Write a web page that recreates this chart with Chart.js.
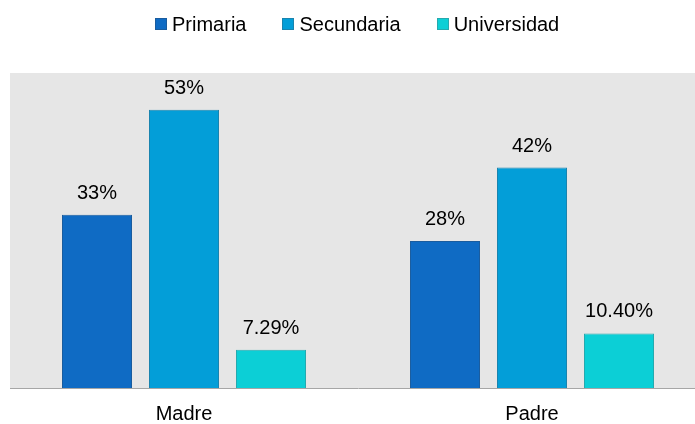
<!DOCTYPE html>
<html>
<head>
<meta charset="utf-8">
<script src="https://cdn.jsdelivr.net/npm/chart.js@4/dist/chart.umd.min.js"></script>
<style>
  html, body { margin: 0; padding: 0; background: #fff; }
  body { width: 695px; height: 424px; overflow: hidden; position: relative; font-family: "Liberation Sans", Arial, sans-serif; }
  #wrap { position: absolute; left: 0; top: 0; width: 706px; height: 440px; }
  #legend { position: absolute; left: 155px; top: 12px; display: flex; align-items: center; font-size: 20px; line-height: 24px; color: #000; }
  #legend .item { display: flex; align-items: center; margin-right: 36px; }
  #legend .box { width: 10px; height: 10px; margin-right: 5px; border: 1px solid; }
</style>
</head>
<body>
<div id="wrap"><canvas id="chart"></canvas></div>
<div id="legend"></div>
<script>
// chart values
const categories = ['Madre', 'Padre'];
const seriesNames = ['Primaria', 'Secundaria', 'Universidad'];
const primaria = [33, 28];
const secundaria = [53, 42];
const universidad = [7.29, 10.40];
const primariaLabels = ['33%', '28%'];
const secundariaLabels = ['53%', '42%'];
const universidadLabels = ['7.29%', '10.40%'];

const fills = ['#0F6BC4', '#039ED8', '#0CCFD6'];
const borders = ['#1A5C9E', '#1A84AE', '#26A9AE'];
const FONT = '"Liberation Sans", Arial, sans-serif';

// gray plot area
const plotBackground = {
  id: 'plotBackground',
  beforeDraw(chart) {
    const { ctx, chartArea: a } = chart;
    ctx.save();
    ctx.fillStyle = '#E6E6E6';
    ctx.fillRect(a.left, a.top, a.right - a.left, a.bottom - a.top);
    ctx.restore();
  }
};

// value labels above the bars
const valueLabels = {
  id: 'valueLabels',
  afterDatasetsDraw(chart) {
    const ctx = chart.ctx;
    ctx.save();
    ctx.font = '20px ' + FONT;
    ctx.fillStyle = '#000';
    ctx.textAlign = 'center';
    ctx.textBaseline = 'alphabetic';
    chart.data.datasets.forEach((ds, i) => {
      chart.getDatasetMeta(i).data.forEach((bar, j) => {
        ctx.fillText(ds.valueText[j], bar.x, bar.y - 16);
      });
    });
    ctx.restore();
  }
};

const chart = new Chart(document.getElementById('chart'), {
  type: 'bar',
  data: {
    labels: categories,
    datasets: [
      { label: seriesNames[0], data: primaria, valueText: primariaLabels },
      { label: seriesNames[1], data: secundaria, valueText: secundariaLabels },
      { label: seriesNames[2], data: universidad, valueText: universidadLabels }
    ].map((ds, i) => Object.assign(ds, {
      backgroundColor: fills[i],
      borderColor: borders[i],
      borderWidth: 1,
      barPercentage: 0.805,
      categoryPercentage: 0.75
    }))
  },
  options: {
    responsive: true,
    maintainAspectRatio: false,
    animation: false,
    layout: { padding: { left: 10, top: 73, right: 0, bottom: 0 } },
    plugins: {
      legend: { display: false },
      tooltip: { enabled: false }
    },
    scales: {
      y: { display: false, min: 0, max: 60 },
      x: {
        grid: { display: false, drawTicks: false },
        border: { display: true, color: '#A6A6A6', width: 1 },
        ticks: { color: '#000', padding: 16, font: { family: FONT, size: 20, lineHeight: 1 } }
      }
    }
  },
  plugins: [plotBackground, valueLabels]
});

// html legend from the datasets
const legend = document.getElementById('legend');
chart.data.datasets.forEach(ds => {
  const item = document.createElement('span');
  item.className = 'item';
  const box = document.createElement('span');
  box.className = 'box';
  box.style.background = ds.backgroundColor;
  box.style.borderColor = ds.borderColor;
  item.appendChild(box);
  item.appendChild(document.createTextNode(ds.label));
  legend.appendChild(item);
});
</script>
</body>
</html>
